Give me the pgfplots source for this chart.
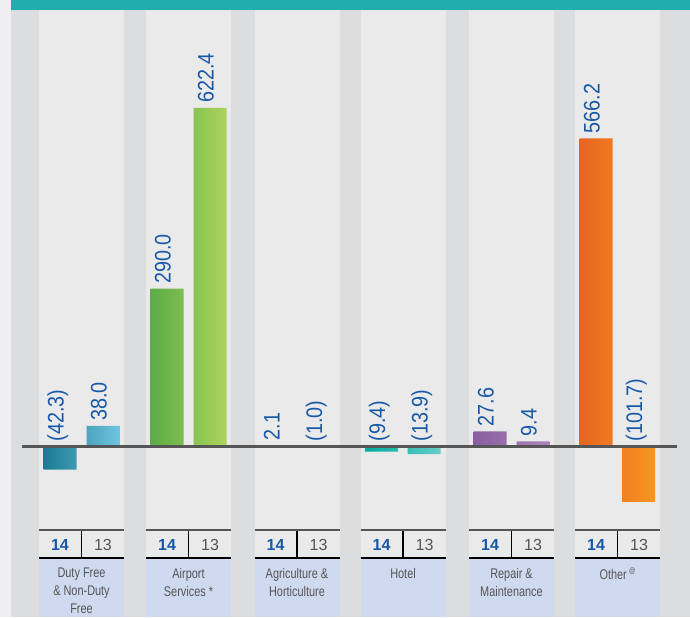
\documentclass[border=0pt]{standalone}
\usepackage{fontspec}
\setmainfont{Liberation Sans}
\newfontfamily\narrow[FakeStretch=0.78]{Liberation Sans}
\newfontfamily\numfont[FakeStretch=0.88]{Liberation Sans}
\usepackage{pgfplots}
\pgfplotsset{compat=1.18}

\definecolor{topteal}{RGB}{33,173,176}
\definecolor{stripegray}{RGB}{220,221,223}
\definecolor{colwhite}{RGB}{234,234,234}
\definecolor{leftstrip}{RGB}{239,239,241}
\definecolor{catblue}{RGB}{207,218,240}
\definecolor{valblue}{RGB}{22,88,168}
\definecolor{txtgray}{RGB}{85,85,85}
\definecolor{linegray}{RGB}{85,85,85}
\definecolor{dfA}{RGB}{26,122,146}\definecolor{dfB}{RGB}{112,198,222}
\definecolor{airA}{RGB}{92,172,72}\definecolor{airB}{RGB}{172,212,92}
\definecolor{agrA}{RGB}{12,78,160}\definecolor{agrB}{RGB}{24,112,192}
\definecolor{hotA}{RGB}{0,172,160}\definecolor{hotB}{RGB}{104,206,200}
\definecolor{repA}{RGB}{138,94,160}\definecolor{repB}{RGB}{172,132,188}
\definecolor{othA}{RGB}{232,100,34}\definecolor{othB}{RGB}{248,150,32}

% pixel row -> data value (baseline at row 446.5, 0.544 px per unit)
\newcommand{\Y}[1]{(446.5-#1)/0.544}

\pgfplotsset{
  catbar/.style 2 args={ybar, bar width=33, bar shift=0pt, draw=none,
    left color=#1, right color=#2},
}

\begin{document}
\begin{tikzpicture}
\begin{axis}[
  scale only axis,
  width=690pt, height=617pt,
  xmin=0, xmax=690,
  ymin={(446.5-617)/0.544}, ymax={446.5/0.544},
  axis lines=none,
  clip=false,
]
% background
\fill[leftstrip] (axis cs:0,{\Y{617}}) rectangle (axis cs:690,{\Y{0}});
\fill[stripegray] (axis cs:11,{\Y{617}}) rectangle (axis cs:690,{\Y{10}});
\fill[topteal] (axis cs:11,{\Y{10}}) rectangle (axis cs:690,{\Y{0}});
\pgfplotsinvokeforeach{81.5,188.5,297,403,511.5,617.5}{
  \fill[colwhite] (axis cs:{#1-42.5},{\Y{10}}) rectangle (axis cs:{#1+42.5},{\Y{558}});
  \fill[catblue] (axis cs:{#1-42.5},{\Y{558}}) rectangle (axis cs:{#1+42.5},{\Y{617}});
  \draw[linegray, line width=2.5pt] (axis cs:{#1-42.5},{\Y{530}}) -- (axis cs:{#1+42.5},{\Y{530}});
  \draw[black, line width=1.5pt] (axis cs:{#1},{\Y{531}}) -- (axis cs:{#1},{\Y{558}});
  \draw[black, line width=1.2pt] (axis cs:{#1-42.5},{\Y{558}}) -- (axis cs:{#1+42.5},{\Y{558}});
  \node[font=\bfseries\fontsize{16}{16}\selectfont, text=valblue] at (axis cs:{#1-21.5},{\Y{545}}) {14};
  \node[font=\fontsize{16}{16}\selectfont, text=txtgray] at (axis cs:{#1+21.5},{\Y{545}}) {13};
}

% bars: 2014 and 2013
\addplot[catbar={dfA}{dfB}] coordinates {(60,-42.3) (103,38.0)};
\addplot[catbar={airA}{airB}] coordinates {(167,290.0) (210,622.4)};
\addplot[catbar={agrA}{agrB}] coordinates {(276,2.1) (318.5,-1.0)};
\addplot[catbar={hotA}{hotB}] coordinates {(381.5,-9.4) (424,-13.9)};
\addplot[catbar={repA}{repB}] coordinates {(490,27.6) (533,9.4)};
\addplot[catbar={othA}{othB}] coordinates {(596,566.2) (638.5,-101.7)};

% value labels (negatives sit on the baseline)
\addplot[draw=none, mark=none, point meta=explicit symbolic, nodes near coords,
  every node near coord/.style={rotate=90, anchor=west, inner sep=0pt, inner xsep=5pt,
    text height=0.716em, text depth=0pt, text=valblue,
    font=\numfont\fontsize{22.5}{24}\selectfont}]
  coordinates {
  (60,0) [(42.3)] (103,38.0) [38.0]
  (167,290.0) [290.0] (210,622.4) [622.4]
  (276,2.1) [2.1] (318.5,0) [(1.0)]
  (381.5,0) [(9.4)] (424,0) [(13.9)]
  (490,27.6) [27.6] (533,9.4) [9.4]
  (596,566.2) [566.2] (638.5,0) [(101.7)]
};

\draw[linegray, line width=3pt] (axis cs:22,0) -- (axis cs:677,0);

% category labels
\tikzset{cat/.style={anchor=north, align=center, inner sep=0pt, text=txtgray,
  font=\narrow\fontsize{14}{18}\selectfont}}
\node[cat] at (axis cs:81.5,{\Y{568}}) {Duty Free\\\& Non-Duty\\Free};
\node[cat] at (axis cs:188.5,{\Y{568}}) {Airport\\Services *};
\node[cat] at (axis cs:297,{\Y{568}}) {Agriculture \&\\Horticulture};
\node[cat] at (axis cs:403,{\Y{568}}) {Hotel};
\node[cat] at (axis cs:511.5,{\Y{568}}) {Repair \&\\Maintenance};
\node[cat] at (axis cs:617.5,{\Y{568}}) {Other\,\raisebox{0.7ex}{\fontsize{8}{8}\selectfont @}};
\end{axis}
\end{tikzpicture}
\end{document}
